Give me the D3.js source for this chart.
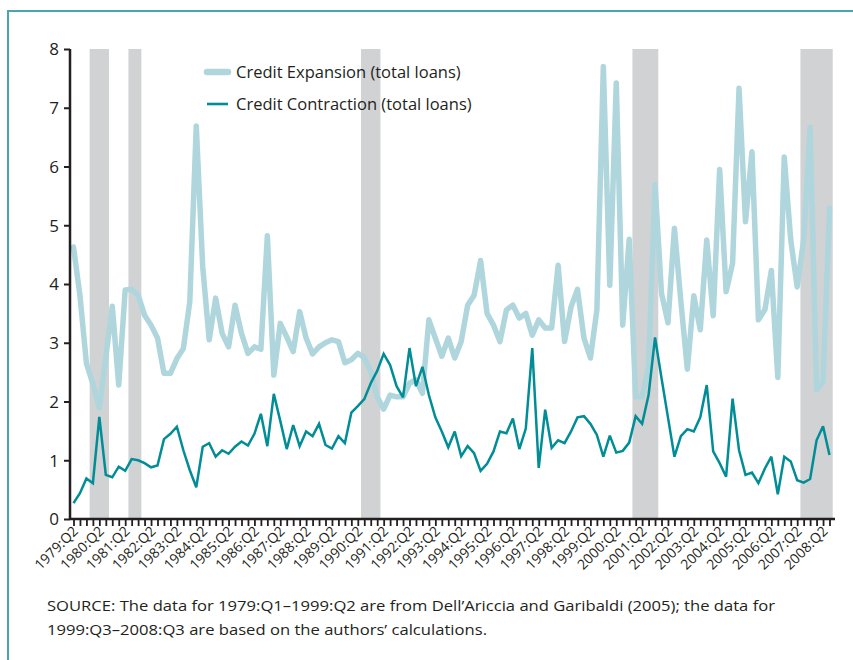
<!DOCTYPE html>
<html>
<head>
<meta charset="utf-8">
<script src="https://cdn.jsdelivr.net/npm/d3@7/dist/d3.min.js"></script>
<style>
  html, body { margin: 0; padding: 0; background: #ffffff; }
  svg { display: block; }
  text { font-family: "Open Sans", "Noto Sans", sans-serif; fill: #231f20; }
</style>
</head>
<body>
<svg id="chart" width="853" height="660"></svg>
<script>
// ---------- Data ----------
const firstYear = 1979, firstQuarter = 2, lastYear = 2008, lastQuarter = 3;
const quarters = [];
for (let y = firstYear; y <= lastYear; y++) {
  for (let q = 1; q <= 4; q++) {
    if (y === firstYear && q < firstQuarter) continue;
    if (y === lastYear && q > lastQuarter) continue;
    quarters.push(y + ":Q" + q);
  }
}

const creditExpansion = [
  4.63, 3.80, 2.65, 2.30, 1.89, 2.75, 3.62, 2.28, 3.90, 3.91,
  3.81, 3.47, 3.30, 3.08, 2.48, 2.48, 2.73, 2.90, 3.70, 6.69,
  4.29, 3.05, 3.76, 3.16, 2.93, 3.64, 3.16, 2.82, 2.93, 2.89,
  4.82, 2.45, 3.33, 3.10, 2.85, 3.53, 3.08, 2.81, 2.93, 3.00,
  3.05, 3.02, 2.66, 2.71, 2.82, 2.75, 2.51, 2.08, 1.87, 2.11,
  2.08, 2.08, 2.31, 2.37, 2.14, 3.39, 3.08, 2.77, 3.08, 2.74,
  3.02, 3.64, 3.81, 4.40, 3.50, 3.30, 3.02, 3.56, 3.64, 3.42,
  3.50, 3.13, 3.39, 3.25, 3.25, 4.32, 3.02, 3.61, 3.91, 3.08,
  2.74, 3.56, 7.70, 3.98, 7.42, 3.30, 4.76, 2.08, 2.08, 2.60,
  5.69, 3.84, 3.34, 4.95, 3.70, 2.55, 3.80, 3.22, 4.75, 3.46,
  5.95, 3.87, 4.35, 7.33, 5.06, 6.25, 3.39, 3.56, 4.23, 2.41,
  6.16, 4.75, 3.95, 4.75, 6.67, 2.20, 2.34, 5.29
];

const creditContraction = [
  0.27, 0.44, 0.69, 0.61, 1.74, 0.75, 0.71, 0.89, 0.82, 1.02,
  1.00, 0.95, 0.88, 0.91, 1.36, 1.45, 1.57, 1.17, 0.83, 0.54,
  1.23, 1.29, 1.06, 1.17, 1.11, 1.23, 1.32, 1.25, 1.45, 1.79,
  1.24, 2.13, 1.67, 1.19, 1.60, 1.24, 1.49, 1.41, 1.62, 1.26,
  1.20, 1.41, 1.29, 1.81, 1.92, 2.04, 2.31, 2.52, 2.81, 2.62,
  2.26, 2.07, 2.91, 2.26, 2.59, 2.11, 1.73, 1.49, 1.22, 1.49,
  1.07, 1.24, 1.12, 0.82, 0.94, 1.15, 1.49, 1.46, 1.71, 1.19,
  1.54, 2.91, 0.87, 1.86, 1.21, 1.34, 1.29, 1.49, 1.73, 1.75,
  1.62, 1.43, 1.06, 1.42, 1.13, 1.16, 1.30, 1.75, 1.62, 2.11,
  3.09, 2.40, 1.73, 1.06, 1.41, 1.53, 1.49, 1.73, 2.28, 1.15,
  0.95, 0.72, 2.05, 1.17, 0.75, 0.79, 0.61, 0.86, 1.06, 0.42,
  1.06, 0.98, 0.66, 0.62, 0.68, 1.34, 1.58, 1.09
];

const recessions = [
  ["1980:Q1", "1980:Q3"],
  ["1981:Q3", "1981:Q4"],
  ["1990:Q3", "1991:Q1"],
  ["2001:Q1", "2001:Q4"],
  ["2007:Q3", "2008:Q3"]
];

const yTicks = [0, 1, 2, 3, 4, 5, 6, 7, 8];
const xTickLabels = quarters.filter(q => q.endsWith(":Q2"));

const seriesNames = ["Credit Expansion (total loans)", "Credit Contraction (total loans)"];
const sourceLines = [
  "SOURCE: The data for 1979:Q1\u20131999:Q2 are from Dell\u2019Ariccia and Garibaldi (2005); the data for",
  "1999:Q3\u20132008:Q3 are based on the authors\u2019 calculations."
];

// ---------- Layout ----------
const colExp = "#afd6dc";
const colCon = "#008d96";
const colShade = "#d1d2d4";
const colAxis = "#231f20";
const colFrame = "#4aa5ad";

const svg = d3.select("#chart");

// frame
svg.append("rect")
  .attr("x", 8).attr("y", 11)
  .attr("width", 900).attr("height", 700)
  .attr("fill", "none")
  .attr("stroke", colFrame)
  .attr("stroke-width", 2);

const axisLeftX = 70, axisRightX = 835;
const x = d3.scalePoint().domain(quarters).range([73.5, 829.5]);
const step = x.step();
const y = d3.scaleLinear().domain([0, 8]).range([519, 49]);

// recession shading
svg.append("g").selectAll("rect")
  .data(recessions)
  .join("rect")
  .attr("x", d => x(d[0]) - step / 2)
  .attr("width", d => x(d[1]) - x(d[0]) + step)
  .attr("y", y(8))
  .attr("height", y(0) - y(8) - 1)
  .attr("fill", colShade);

// lines
const line = d3.line().x((d, i) => x(quarters[i])).y(d => y(d));

svg.append("path")
  .datum(creditExpansion)
  .attr("d", line)
  .attr("fill", "none")
  .attr("stroke", colExp)
  .attr("stroke-width", 5.5)
  .attr("stroke-linejoin", "round")
  .attr("stroke-linecap", "round");

svg.append("path")
  .datum(creditContraction)
  .attr("d", line)
  .attr("fill", "none")
  .attr("stroke", colCon)
  .attr("stroke-width", 2.5)
  .attr("stroke-linejoin", "miter")
  .attr("stroke-miterlimit", 3);

// Y axis
const yAxis = svg.append("g")
  .attr("transform", `translate(${axisLeftX},0)`)
  .call(d3.axisLeft(y).tickValues(yTicks).tickSize(6).tickPadding(5).tickFormat(d3.format("d")));
yAxis.select(".domain").attr("stroke", colAxis).attr("stroke-width", 2.5)
  .attr("d", `M0,${y(8)}V${y(0)}`);
yAxis.selectAll(".tick line").attr("stroke", colAxis).attr("stroke-width", 2);
yAxis.selectAll(".tick text")
  .style("font-family", "'Open Sans', sans-serif")
  .style("font-size", "17px")
  .attr("fill", colAxis)
  .attr("dy", "0.35em");

// X axis
const xAxis = svg.append("g")
  .attr("transform", `translate(0,${y(0)})`)
  .call(d3.axisBottom(x).tickSize(7).tickFormat(d => xTickLabels.includes(d) ? d : ""));
xAxis.select(".domain").attr("stroke", colAxis).attr("stroke-width", 2.5)
  .attr("d", `M${axisLeftX},0H${axisRightX}`);
xAxis.selectAll(".tick line").attr("stroke", colAxis).attr("stroke-width", 1.8);
xAxis.selectAll(".tick text")
  .style("font-family", "'Open Sans', sans-serif")
  .style("font-size", "14px")
  .attr("fill", colAxis)
  .attr("text-anchor", "end")
  .attr("y", 0).attr("dy", 0)
  .attr("transform", "translate(5,13) rotate(-45)");

// Legend
const legend = svg.append("g");
const legendItems = [
  { name: seriesNames[0], color: colExp, w: 6.5, y: 72 },
  { name: seriesNames[1], color: colCon, w: 2.6, y: 104 }
];
legendItems.forEach(d => {
  legend.append("line")
    .attr("x1", 207).attr("x2", 228)
    .attr("y1", d.y).attr("y2", d.y)
    .attr("stroke", d.color).attr("stroke-width", d.w)
    .attr("stroke-linecap", d.w > 4 ? "round" : "butt");
  legend.append("text")
    .attr("x", 236).attr("y", d.y + 6)
    .style("font-size", "16.5px")
    .text(d.name);
});

// Source note
svg.append("g").selectAll("text")
  .data(sourceLines)
  .join("text")
  .attr("x", 47)
  .attr("y", (d, i) => 611 + i * 24)
  .style("font-size", "15px")
  .attr("textLength", (d, i) => i === 0 ? 728 : 440)
  .attr("lengthAdjust", "spacingAndGlyphs")
  .text(d => d);
</script>
</body>
</html>
